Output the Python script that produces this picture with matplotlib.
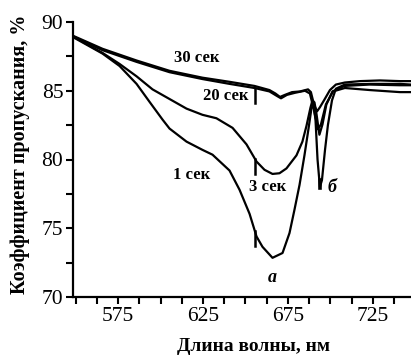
import numpy as np
import matplotlib
matplotlib.use("Agg")
import matplotlib.pyplot as plt
from matplotlib.ticker import MultipleLocator, FixedLocator

plt.rcParams['font.family'] = ['Liberation Serif', 'DejaVu Serif']

# Transmission spectra, wavelength (nm) vs transmission (%)
wl_30 = [548.5, 565.9, 585.9, 605.3, 624.7, 640.6, 655.3, 664.1, 667.6, 670.3, 673.2,
         677.4, 682.1, 686.8, 688.5, 690.3, 692.1, 693.8, 696.2, 699.7, 703.2, 708.5,
         717.3, 729.1, 740.9, 747.4]
tr_30 = [89.0, 88.05, 87.2, 86.45, 85.95, 85.65, 85.35, 85.05, 84.8, 84.55, 84.7,
         84.9, 84.95, 85.1, 84.9, 84.0, 83.5, 83.8, 84.3, 85.05, 85.45, 85.6,
         85.7, 85.75, 85.7, 85.7]

wl_20 = [548.5, 565.9, 585.9, 605.3, 624.7, 640.6, 655.3, 664.1, 668.8, 670.9, 674.4,
         679.1, 685.0, 687.9, 690.3, 692.6, 694.4, 697.3, 701.5, 708.5, 723.2, 740.9, 747.4]
tr_20 = [88.95, 87.95, 87.1, 86.35, 85.85, 85.5, 85.2, 84.95, 84.6, 84.45, 84.7,
         84.85, 85.0, 84.8, 83.6, 82.2, 82.55, 84.0, 84.95, 85.2, 85.05, 84.9, 84.9]

wl_3 = [548.5, 565.9, 575.9, 585.9, 595.3, 605.3, 615.3, 624.7, 632.9, 642.4, 650.6,
        656.5, 661.2, 665.9, 670.0, 674.1, 680.0, 683.5, 685.9, 688.2, 689.4, 690.6,
        691.8, 693.5, 695.3, 697.6, 701.2, 708.2, 722.9, 740.6, 747.4]
tr_3 = [88.95, 87.75, 86.95, 86.05, 85.1, 84.4, 83.7, 83.25, 83.0, 82.3, 81.1,
        79.85, 79.25, 78.95, 79.0, 79.35, 80.3, 81.3, 82.45, 83.75, 84.3, 84.15,
        83.3, 81.8, 82.55, 84.0, 84.95, 85.35, 85.45, 85.4, 85.4]

wl_1 = [548.5, 565.9, 575.9, 585.9, 593.5, 601.2, 605.3, 615.3, 624.7, 630.6, 640.6,
        646.5, 652.4, 656.5, 660.0, 665.9, 671.8, 675.9, 678.8, 681.8, 684.7, 687.1,
        688.8, 690.0, 691.2, 692.4, 693.8, 695.0, 696.8, 698.5, 700.9, 703.2, 708.5,
        723.2, 740.9, 747.4]
tr_1 = [88.9, 87.7, 86.8, 85.5, 84.2, 82.9, 82.25, 81.3, 80.7, 80.35, 79.2,
        77.8, 76.05, 74.4, 73.65, 72.85, 73.2, 74.65, 76.33, 78.15, 80.3, 82.25,
        83.7, 84.0, 82.9, 80.0, 78.0, 78.5, 80.7, 82.5, 84.3, 85.15, 85.45,
        85.5, 85.5, 85.45]

series = [(wl_30, tr_30), (wl_20, tr_20), (wl_3, tr_3), (wl_1, tr_1)]

x_major = [575, 625, 675, 725]
y_major = [70, 75, 80, 85, 90]

fig = plt.figure(figsize=(4.11, 3.57), dpi=100)
ax = fig.add_axes([73 / 411, 1 - 297 / 357, 338 / 411, 275 / 357])

for wl, tr in series:
    ax.plot(wl, tr, color='black', lw=1.6, solid_joinstyle='round')

# short markers hanging below the curves at 655 nm
mark_wl = 655.5
for wl, tr in [(wl_20, tr_20), (wl_3, tr_3), (wl_1, tr_1)]:
    v = np.interp(mark_wl, wl, tr)
    ax.plot([mark_wl, mark_wl], [v, v - 1.1], color='black', lw=1.8)
dip_wl = 693.9
ax.plot([dip_wl, dip_wl], [78.5, 77.9], color='black', lw=2.6)

bold = dict(fontsize=12, fontweight='bold', ha='center', va='center')
ax.text(621.5, 87.38, '30 сек', **bold)
ax.text(638.5, 84.62, '20 сек', **bold)
ax.text(618.5, 78.87, '1 сек', **bold)
ax.text(663.2, 78.0, '3 сек', **bold)
ax.text(701.0, 78.0, 'б', fontsize=13, fontweight='bold', fontstyle='italic',
        ha='center', va='center')
ax.text(665.6, 71.45, 'а', fontsize=13, fontweight='bold', fontstyle='italic',
        ha='center', va='center')

ax.set_xlim(548.5, 747.4)
ax.set_ylim(70, 90)
ax.xaxis.set_major_locator(FixedLocator(x_major))
ax.xaxis.set_minor_locator(MultipleLocator(12.5))
ax.yaxis.set_major_locator(FixedLocator(y_major))
ax.yaxis.set_minor_locator(MultipleLocator(2.5))

for s in ['top', 'right']:
    ax.spines[s].set_visible(False)
for s in ['left', 'bottom']:
    ax.spines[s].set_linewidth(1.6)

ax.tick_params(which='both', direction='out', length=5, width=1.5, labelsize=15.5, pad=2)

ax.set_xlabel('Длина волны, нм', fontsize=14, fontweight='bold')
ax.set_ylabel('Коэффициент пропускания, %', fontsize=14.5, fontweight='bold')
ax.xaxis.set_label_coords(0.535, -0.148)
ax.yaxis.set_label_coords(-0.128, 0.52)

fig.savefig('out.png', dpi=100)
